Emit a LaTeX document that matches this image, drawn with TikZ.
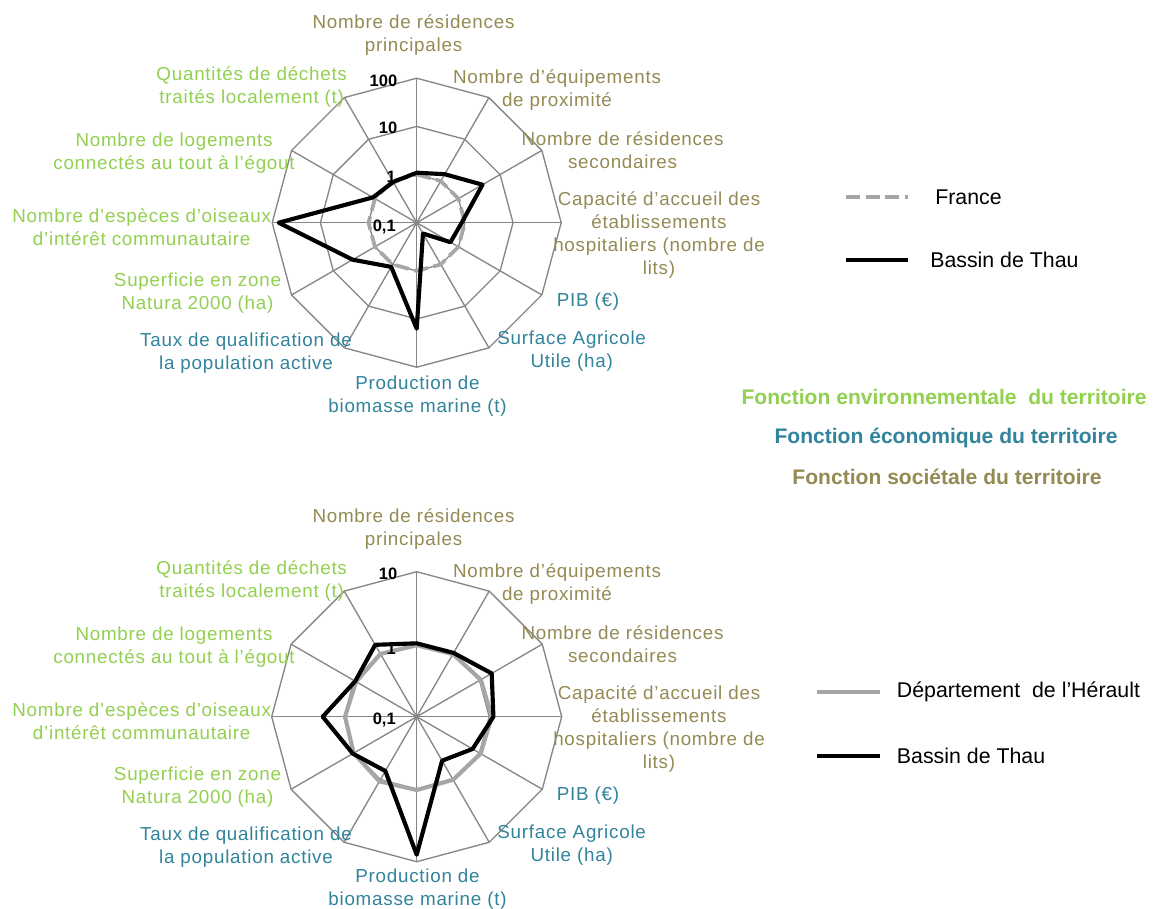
\documentclass[tikz,border=0pt]{standalone}
\usepackage{fontspec}
\setmainfont{Liberation Sans}
\newfontfamily\axisfont{Liberation Sans}[LetterSpace=4.0]
\definecolor{envgreen}{RGB}{146,208,80}
\definecolor{ecoblue}{RGB}{49,132,155}
\definecolor{socolive}{RGB}{148,138,84}
\definecolor{gridgray}{RGB}{134,134,134}
\definecolor{refgray}{RGB}{166,166,166}
\tikzset{
  webline/.style={draw=gridgray, line width=1pt},
  axislbl/.style={align=center, inner sep=0pt, yshift=-1.1pt,
    font=\axisfont\fontsize{14.1}{17.3}\selectfont},
  envlbl/.style={axislbl, text=envgreen},
  ecolbl/.style={axislbl, text=ecoblue},
  soclbl/.style={axislbl, text=socolive},
  ticklbl/.style={anchor=east, inner sep=0pt,
    font=\bfseries\fontsize{12.4}{14}\selectfont},
  thau/.style={draw=black, line width=3.1pt, line join=round},
  france/.style={draw=refgray, line width=2.8pt, dash pattern=on 10.5pt off 4.3pt},
  herault/.style={draw=refgray, line width=3.1pt, line join=round},
  keytext/.style={anchor=west, inner sep=0pt, font=\fontsize{16}{19}\selectfont},
  functitle/.style={inner sep=0pt, font=\bfseries\fontsize{15.8}{19}\selectfont},
}
\begin{document}
\begin{tikzpicture}[x=0.75pt, y=-0.75pt]
\fill[white] (0,0) rectangle (1153,908);
\useasboundingbox (0,0) rectangle (1153,908);

% ---------- upper chart: Bassin de Thau vs France (log scale 0,1 .. 100)
\coordinate (ctop) at (416.7,222.7);
\begin{scope}[shift={(ctop)}, yscale=-1]
  \foreach \rr in {48.2,96.3,144.5}
    \draw[webline] (90:\rr) \foreach \k in {1,...,11}{ -- ({90-30*\k}:\rr)} -- cycle;
  \foreach \k in {0,...,11}
    \draw[webline] (0,0) -- ({90-30*\k}:144.5);
  \draw[france] (90:48.2) \foreach \k in {1,...,11}{ -- ({90-30*\k}:48.2)} -- cycle;
  \foreach \rr [count=\k from 0] in {50,56,76,45,39,12.5,106,51,74,138,50.6,47}
    \coordinate (ta\k) at ({90-30*\k}:\rr);
  \draw[thau] (ta0) -- (ta1) -- (ta2) -- (ta3) -- (ta4) -- (ta5) -- (ta6)
    -- (ta7) -- (ta8) -- (ta9) -- (ta10) -- (ta11) -- cycle;
\end{scope}
\node[ticklbl] (tt100) at (397.5,80.7) {100};
\node[ticklbl] (tt10) at (397.5,128.3) {10};
\node[ticklbl] (tt1) at (396,176.7) {1};
\node[ticklbl] (tt01) at (396,226.7) {0,1};

\node[soclbl] (tl0) at (413.5,33.5) {Nombre de résidences\\principales};
\node[soclbl] (tl1) at (557,89) {Nombre d’équipements\\de proximité};
\node[soclbl] (tl2) at (622.5,148.5) {Nombre de résidences\\secondaires};
\node[soclbl] (tl3) at (659,233.5) {Capacité d’accueil des\\établissements\\hospitaliers (nombre de\\lits)};
\node[ecolbl] (tl4) at (588,300) {PIB (€)};
\node[ecolbl] (tl5) at (571.7,350) {Surface Agricole\\Utile (ha)};
\node[ecolbl] (tl6) at (417.5,394.5) {Production de\\biomasse marine (t)};
\node[ecolbl] (tl7) at (246,352) {Taux de qualification de\\la population active};
\node[envlbl] (tl8) at (197.5,291.3) {Superficie en zone\\Natura 2000 (ha)};
\node[envlbl] (tl9) at (141.7,225.8) {Nombre d’espèces d’oiseaux\\d’intérêt communautaire};
\node[envlbl] (tl10) at (174,151.3) {Nombre de logements\\connectés au tout à l’égout};
\node[envlbl] (tl11) at (251.7,85.7) {Quantités de déchets\\traités localement (t)};

% key of the upper chart
\coordinate (kfa) at (846,197.3);
\coordinate (kfb) at (908.3,197.3);
\draw[france] (kfa) -- (kfb);
\node[keytext] (kfr) at (935,197.3) {France};
\coordinate (kta) at (846,260);
\coordinate (ktb) at (908.3,260);
\draw[thau] (kta) -- (ktb);
\node[keytext] (kth) at (930,260) {Bassin de Thau};

% colour key of the three functions
\node[functitle, text=envgreen] (fenv) at (944,397) {Fonction environnementale~ du territoire};
\node[functitle, text=ecoblue] (feco) at (946,438) {Fonction économique du territoire};
\node[functitle, text=socolive] (fsoc) at (947,476.7) {Fonction sociétale du territoire};

% ---------- lower chart: Bassin de Thau vs Hérault (log scale 0,1 .. 10)
\coordinate (cbot) at (416.7,716.7);
\begin{scope}[shift={(cbot)}, yscale=-1]
  \foreach \rr in {72.5,145}
    \draw[webline] (90:\rr) \foreach \k in {1,...,11}{ -- ({90-30*\k}:\rr)} -- cycle;
  \foreach \k in {0,...,11}
    \draw[webline] (0,0) -- ({90-30*\k}:145);
  \foreach \rr [count=\k from 0] in {71.5,72.3,74,75,73.8,72.8,73.3,74.6,72.8,71.7,70,72.5}
    \coordinate (hb\k) at ({90-30*\k}:\rr);
  \draw[herault] (hb0) -- (hb1) -- (hb2) -- (hb3) -- (hb4) -- (hb5) -- (hb6)
    -- (hb7) -- (hb8) -- (hb9) -- (hb10) -- (hb11) -- cycle;
  \foreach \rr [count=\k from 0] in {73.4,73.7,86.6,76.7,64.5,50.8,138,62.7,73.8,94,71,83}
    \coordinate (tb\k) at ({90-30*\k}:\rr);
  \draw[thau] (tb0) -- (tb1) -- (tb2) -- (tb3) -- (tb4) -- (tb5) -- (tb6)
    -- (tb7) -- (tb8) -- (tb9) -- (tb10) -- (tb11) -- cycle;
\end{scope}
\node[ticklbl] (bt10) at (397.5,573.3) {10};
\node[ticklbl] (bt1) at (396,648.3) {1};
\node[ticklbl] (bt01) at (396,720) {0,1};

\node[soclbl] (bl0) at (413.5,527.5) {Nombre de résidences\\principales};
\node[soclbl] (bl1) at (557,583) {Nombre d’équipements\\de proximité};
\node[soclbl] (bl2) at (622.5,642.5) {Nombre de résidences\\secondaires};
\node[soclbl] (bl3) at (659,727.5) {Capacité d’accueil des\\établissements\\hospitaliers (nombre de\\lits)};
\node[ecolbl] (bl4) at (588,794) {PIB (€)};
\node[ecolbl] (bl5) at (571.7,844) {Surface Agricole\\Utile (ha)};
\node[ecolbl] (bl6) at (417.5,888) {Production de\\biomasse marine (t)};
\node[ecolbl] (bl7) at (246,846) {Taux de qualification de\\la population active};
\node[envlbl] (bl8) at (197.5,785.3) {Superficie en zone\\Natura 2000 (ha)};
\node[envlbl] (bl9) at (141.7,719.8) {Nombre d’espèces d’oiseaux\\d’intérêt communautaire};
\node[envlbl] (bl10) at (174,645.3) {Nombre de logements\\connectés au tout à l’égout};
\node[envlbl] (bl11) at (251.7,579.7) {Quantités de déchets\\traités localement (t)};

% key of the lower chart
\coordinate (kha) at (816.7,691.7);
\coordinate (khb) at (880,691.7);
\draw[herault] (kha) -- (khb);
\node[keytext] (khe) at (896.7,691.7) {Département~ de l’Hérault};
\coordinate (kba) at (816.7,755.7);
\coordinate (kbb) at (880,755.7);
\draw[thau] (kba) -- (kbb);
\node[keytext] (kbt) at (896.7,755.7) {Bassin de Thau};
\end{tikzpicture}
\end{document}
